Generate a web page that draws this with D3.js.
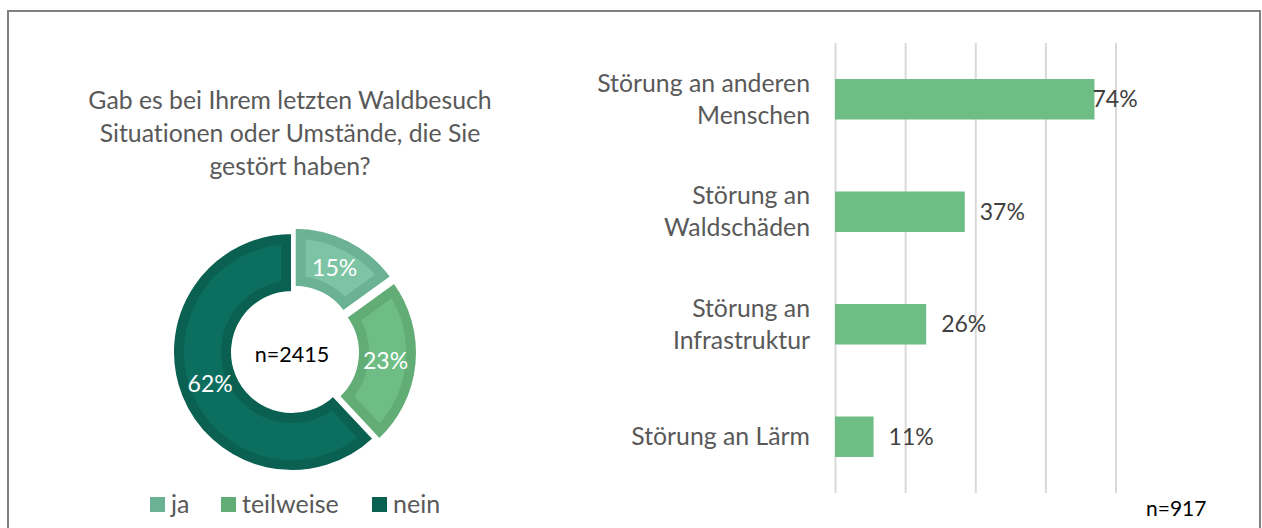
<!DOCTYPE html>
<html>
<head>
<meta charset="utf-8">
<script src="https://cdn.jsdelivr.net/npm/d3@7"></script>
<style>
  body { margin: 0; background: #fff; }
  svg text { font-family: Lato, "Open Sans", sans-serif; font-variant-ligatures: none; }
</style>
</head>
<body>
<svg width="1262" height="528"></svg>
<script>
  // donut data
  var pieCats = ["ja", "teilweise", "nein"];
  var pieValues = [15, 23, 62];
  var pieN = "n=2415";
  var titleLines = ["Gab es bei Ihrem letzten Waldbesuch", "Situationen oder Umstände, die Sie", "gestört haben?"];

  // bar data
  var barCats = [["Störung an anderen", "Menschen"], ["Störung an", "Waldschäden"], ["Störung an", "Infrastruktur"], ["Störung an Lärm"]];
  var barValues = [74, 37, 26, 11];
  var barTicks = [0, 20, 40, 60, 80];
  var barN = "n=917";

  var svg = d3.select("svg");
  var w = +svg.attr("width");
  var h = +svg.attr("height");

  var fills = ["#7dc4a4", "#6dbd84", "#0c6e5f"];
  var edges = ["#6bb295", "#62ac76", "#0a6051"];

  // frame
  svg.append("rect")
    .attr("x", 8).attr("y", 11)
    .attr("width", 1252).attr("height", 530)
    .attr("fill", "none")
    .attr("stroke", "#808080")
    .attr("stroke-width", 2);

  // title
  svg.append("g").selectAll("text")
    .data(titleLines)
    .join("text")
    .attr("x", 290)
    .attr("y", function (d, i) { return 109 + i * 33; })
    .attr("text-anchor", "middle")
    .attr("font-size", 24.8)
    .attr("fill", "#595959")
    .text(function (d) { return d; });

  // donut
  var cx = 292, cy = 352, rOut = 119, rIn = 60;
  var pieG = svg.append("g").attr("transform", "translate(" + cx + "," + cy + ")");
  var pie = d3.pie().sort(null)(pieValues);
  var arc = d3.arc().innerRadius(rIn).outerRadius(rOut);
  var explode = [6, 6, 0];

  var defs = svg.append("defs");
  var slices = pieG.selectAll("g.slice")
    .data(pie)
    .join("g")
    .attr("class", "slice")
    .attr("transform", function (d, i) {
      var a = (d.startAngle + d.endAngle) / 2;
      return "translate(" + (Math.sin(a) * explode[i]) + "," + (-Math.cos(a) * explode[i]) + ")";
    });

  slices.each(function (d, i) {
    defs.append("clipPath").attr("id", "clip" + i)
      .append("path").attr("d", arc(d));
  });

  // darker inner band = clipped wide stroke
  slices.append("path")
    .attr("d", arc)
    .attr("fill", function (d, i) { return fills[i]; })
    .attr("stroke", function (d, i) { return edges[i]; })
    .attr("stroke-width", 22)
    .attr("clip-path", function (d, i) { return "url(#clip" + i + ")"; });

  slices.append("path")
    .attr("d", arc)
    .attr("fill", "none")
    .attr("stroke", "#fff")
    .attr("stroke-width", 2);

  var labelArc = d3.arc().innerRadius(88).outerRadius(88);
  slices.append("text")
    .attr("transform", function (d) { return "translate(" + labelArc.centroid(d) + ")"; })
    .attr("text-anchor", "middle")
    .attr("dy", "0.35em")
    .attr("font-size", 23)
    .attr("fill", "#fff")
    .text(function (d) { return d.data + "%"; });

  pieG.append("text")
    .attr("text-anchor", "middle")
    .attr("y", 10)
    .attr("font-size", 21.5)
    .attr("fill", "#000")
    .text(pieN);

  // legend
  var legX = [150, 221, 372];
  var leg = svg.append("g").selectAll("g")
    .data(pieCats)
    .join("g")
    .attr("transform", function (d, i) { return "translate(" + legX[i] + ",497)"; });
  leg.append("rect")
    .attr("width", 15).attr("height", 15)
    .attr("fill", function (d, i) { return edges[i]; });
  leg.append("text")
    .attr("x", 21).attr("y", 16)
    .attr("font-size", 25)
    .attr("fill", "#595959")
    .text(function (d) { return d; });

  // bar chart
  var x = d3.scaleLinear().domain([0, 80]).range([835, 1115.5]);
  var y = d3.scaleBand().domain(d3.range(barCats.length)).range([43, 493]).paddingInner(0.64).paddingOuter(0.32);

  svg.append("g")
    .attr("transform", "translate(0,493)")
    .call(d3.axisBottom(x).tickValues(barTicks).tickSize(-450).tickFormat(""))
    .call(function (g) {
      g.select(".domain").remove();
      g.selectAll(".tick line").attr("stroke", "#d9d9d9").attr("stroke-width", 2);
    });

  svg.append("g").selectAll("rect")
    .data(barValues)
    .join("rect")
    .attr("x", x(0))
    .attr("y", function (d, i) { return y(i); })
    .attr("width", function (d) { return x(d) - x(0); })
    .attr("height", y.bandwidth())
    .attr("fill", "#6dbd84");

  svg.append("g").selectAll("text")
    .data(barValues)
    .join("text")
    .attr("x", function (d) { return Math.min(x(d) + 15, x(80) - 23); })
    .attr("y", function (d, i) { return y(i) + y.bandwidth() / 2; })
    .attr("dy", "0.35em")
    .attr("font-size", 23)
    .attr("fill", "#404040")
    .text(function (d) { return d + "%"; });

  var catG = svg.append("g").selectAll("text")
    .data(barCats)
    .join("text")
    .attr("text-anchor", "end")
    .attr("font-size", 24.8)
    .attr("fill", "#595959")
    .attr("transform", function (d, i) { return "translate(810," + (y(i) + y.bandwidth() / 2) + ")"; });
  catG.selectAll("tspan")
    .data(function (d) { return d; })
    .join("tspan")
    .attr("x", 0)
    .attr("y", function (d, i, nodes) { return (i - (nodes.length - 1) / 2) * 32; })
    .attr("dy", "0.35em")
    .text(function (d) { return d; });

  svg.append("text")
    .attr("x", 1146).attr("y", 516)
    .attr("font-size", 21)
    .attr("fill", "#000")
    .text(barN);
</script>
</body>
</html>
